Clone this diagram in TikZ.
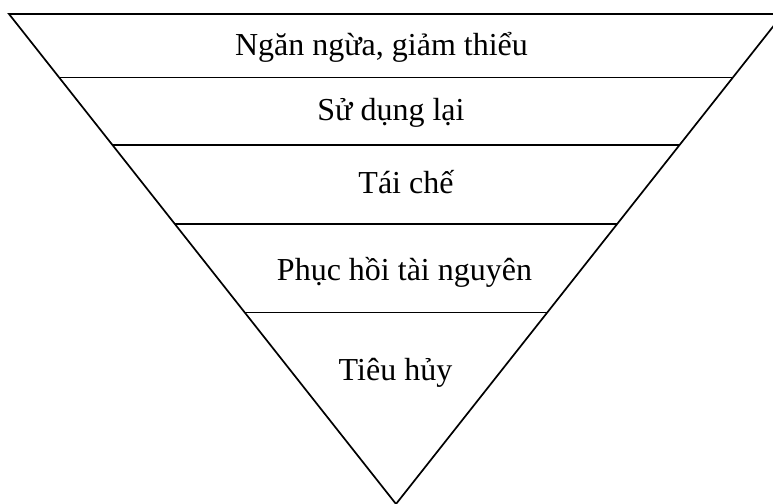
\documentclass[tikz,border=0pt]{standalone}
\usepackage{fontspec}
\setmainfont{Liberation Serif}
\usetikzlibrary{calc}
\begin{document}
\begin{tikzpicture}[x=1pt,y=-1pt,
  edge/.style={line width=1.7pt,line join=miter},
  lbl/.style={anchor=base,inner sep=0pt,font=\fontsize{32}{38}\selectfont}]
\useasboundingbox (0,0) rectangle (773,503);
\clip (0,0) rectangle (773,503);
\coordinate (TL) at (9,14);
\coordinate (TR) at (783,14);
\coordinate (A) at (396,504);
\draw[edge] (TL) -- (TR) -- (A) -- cycle;
\foreach \i/\y in {1/77.5,2/145,3/224,4/312.5}{
  \coordinate (L\i) at ($(TL)!{(\y-14)/490}!(A)$);
  \coordinate (R\i) at ($(TR)!{(\y-14)/490}!(A)$);
  \draw[edge] (L\i) -- (R\i);
}
\node[lbl] (n1) at (381.5,56) {Ngăn ngừa, giảm thiểu};
\node[lbl] (n2) at (391,120) {Sử dụng lại};
\node[lbl] (n3) at (406,193.3) {Tái chế};
\node[lbl] (n4) at (404.5,280) {Phục hồi tài nguyên};
\node[lbl] (n5) at (395.5,380) {Tiêu hủy};
\end{tikzpicture}
\end{document}
